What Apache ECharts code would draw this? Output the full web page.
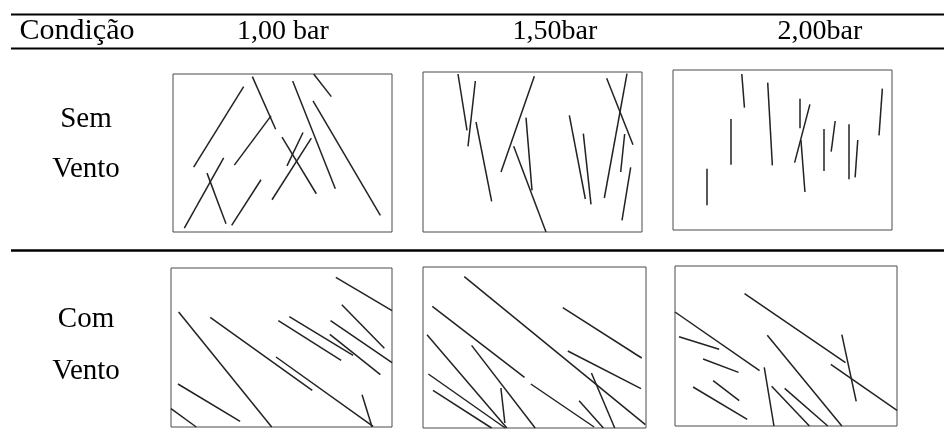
<!DOCTYPE html>
<html>
<head>
<meta charset="utf-8">
<script src="https://cdn.jsdelivr.net/npm/echarts@6/dist/echarts.min.js"></script>
<style>
html,body{margin:0;padding:0;background:#fff;}
#c{width:944px;height:433px;}
</style>
</head>
<body>
<div id="c"></div>
<script>
// Header and row labels
var headerLabels = ['Condição', '1,00 bar', '1,50bar', '2,00bar'];
var rowLabels = [['Sem', 'Vento'], ['Com', 'Vento']];

// Extent of each frame in the units used to read the segments [x0, x1, y0, y1]
var frame1 = [38, 695, 42, 517];
var frame2 = [38, 695, 37, 517];
var frame3 = [38, 697, 30, 510];
var frame4 = [32, 697, 38, 515];
var frame5 = [38, 708, 37, 520];
var frame6 = [46, 710, 32, 512];

// Droplet trajectories: [x1, y1, x2, y2] (y grows downward)
var semVento100 = [
  [100,322,250,80],[276,50,346,208],[222,316,332,168],[397,63,525,387],
  [460,42,513,110],[458,123,660,467],[365,232,468,402],[380,318,428,218],
  [335,420,453,235],[140,340,197,492],[72,505,190,294],[214,497,302,360]
];
var semVento150 = [
  [143,43,170,212],[195,64,173,260],[197,187,244,425],[372,50,272,337],
  [347,174,365,392],[310,260,407,517],[477,167,525,418],[519,222,542,434],
  [589,56,668,255],[650,42,582,415],[643,223,631,337],[661,323,635,482]
];
var semVento200 = [
  [245,42,253,143],[213,177,213,314],[140,326,140,436],[323,68,337,316],
  [419,116,419,205],[450,133,404,308],[423,240,435,396],[491,207,491,333],
  [526,183,514,275],[567,193,567,358],[594,240,586,352],[668,86,658,226]
];
var comVento100 = [
  [528,66,697,166],[546,148,674,279],[512,196,697,322],[510,237,662,358],
  [388,184,580,300],[355,196,544,315],[150,186,457,405],[348,305,640,513],
  [55,170,335,515],[53,386,240,498],[32,460,108,515],[607,418,637,515]
];
var comVento150 = [
  [162,66,706,510],[458,159,695,310],[66,155,343,368],[473,289,693,402],
  [50,240,290,520],[184,272,375,520],[54,358,285,520],[68,407,244,520],
  [272,400,284,505],[362,388,552,517],[507,438,580,520],[544,355,614,520]
];
var comVento200 = [
  [254,115,556,322],[46,170,299,346],[58,244,178,282],[130,311,236,351],
  [160,376,238,436],[100,395,262,492],[313,336,342,512],[322,240,545,512],
  [335,393,448,512],[374,399,503,512],[545,238,588,438],[512,327,710,465]
];

var panels = [
  {seg: semVento100, ext: frame1, box: [173, 74, 219, 158]},
  {seg: semVento150, ext: frame2, box: [423, 72, 219, 160]},
  {seg: semVento200, ext: frame3, box: [673, 70, 219, 160]},
  {seg: comVento100, ext: frame4, box: [171, 268, 221, 159]},
  {seg: comVento150, ext: frame5, box: [423, 267, 223, 161]},
  {seg: comVento200, ext: frame6, box: [675, 266, 222, 160]}
];

var grids = [], xAxes = [], yAxes = [], series = [];
panels.forEach(function (p, i) {
  grids.push({left: p.box[0], top: p.box[1], width: p.box[2], height: p.box[3],
    show: true, borderColor: '#4a4a4a', borderWidth: 1, backgroundColor: 'transparent'});
  xAxes.push({type: 'value', gridIndex: i, min: p.ext[0], max: p.ext[1], show: false});
  yAxes.push({type: 'value', gridIndex: i, min: p.ext[2], max: p.ext[3], inverse: true, show: false});
  series.push({
    type: 'lines', coordinateSystem: 'cartesian2d', xAxisIndex: i, yAxisIndex: i,
    silent: true,
    lineStyle: {color: '#222', width: 1.5, opacity: 1},
    data: p.seg.map(function (s) { return {coords: [[s[0], s[1]], [s[2], s[3]]]}; })
  });
});

var font = '"Liberation Serif", "Times New Roman", serif';
function txt(s, x, y, size) {
  return {type: 'text', x: x, y: y, silent: true,
    style: {text: s, x: 0, y: 0, fill: '#000', font: size + 'px ' + font,
      textAlign: 'center', textVerticalAlign: 'bottom', align: 'center', verticalAlign: 'bottom'}};
}
function rule(y, w) {
  return {type: 'line', silent: true, shape: {x1: 11, y1: y, x2: 944, y2: y},
    style: {stroke: '#000', lineWidth: w}};
}
var headerX = [77, 283, 555, 820];
var graphics = [rule(14.5, 2), rule(48.5, 2), rule(250.5, 2.5)];
headerLabels.forEach(function (h, i) { graphics.push(txt(h, headerX[i], 46, i === 0 ? 30 : 28)); });
graphics.push(txt(rowLabels[0][0], 86, 134, 29));
graphics.push(txt(rowLabels[0][1], 86, 184, 29));
graphics.push(txt(rowLabels[1][0], 86, 334, 29));
graphics.push(txt(rowLabels[1][1], 86, 386, 29));

var chart = echarts.init(document.getElementById('c'), null, {renderer: 'canvas'});
chart.setOption({
  animation: false,
  backgroundColor: '#fff',
  grid: grids, xAxis: xAxes, yAxis: yAxes, series: series,
  graphic: graphics
});
</script>
</body>
</html>
